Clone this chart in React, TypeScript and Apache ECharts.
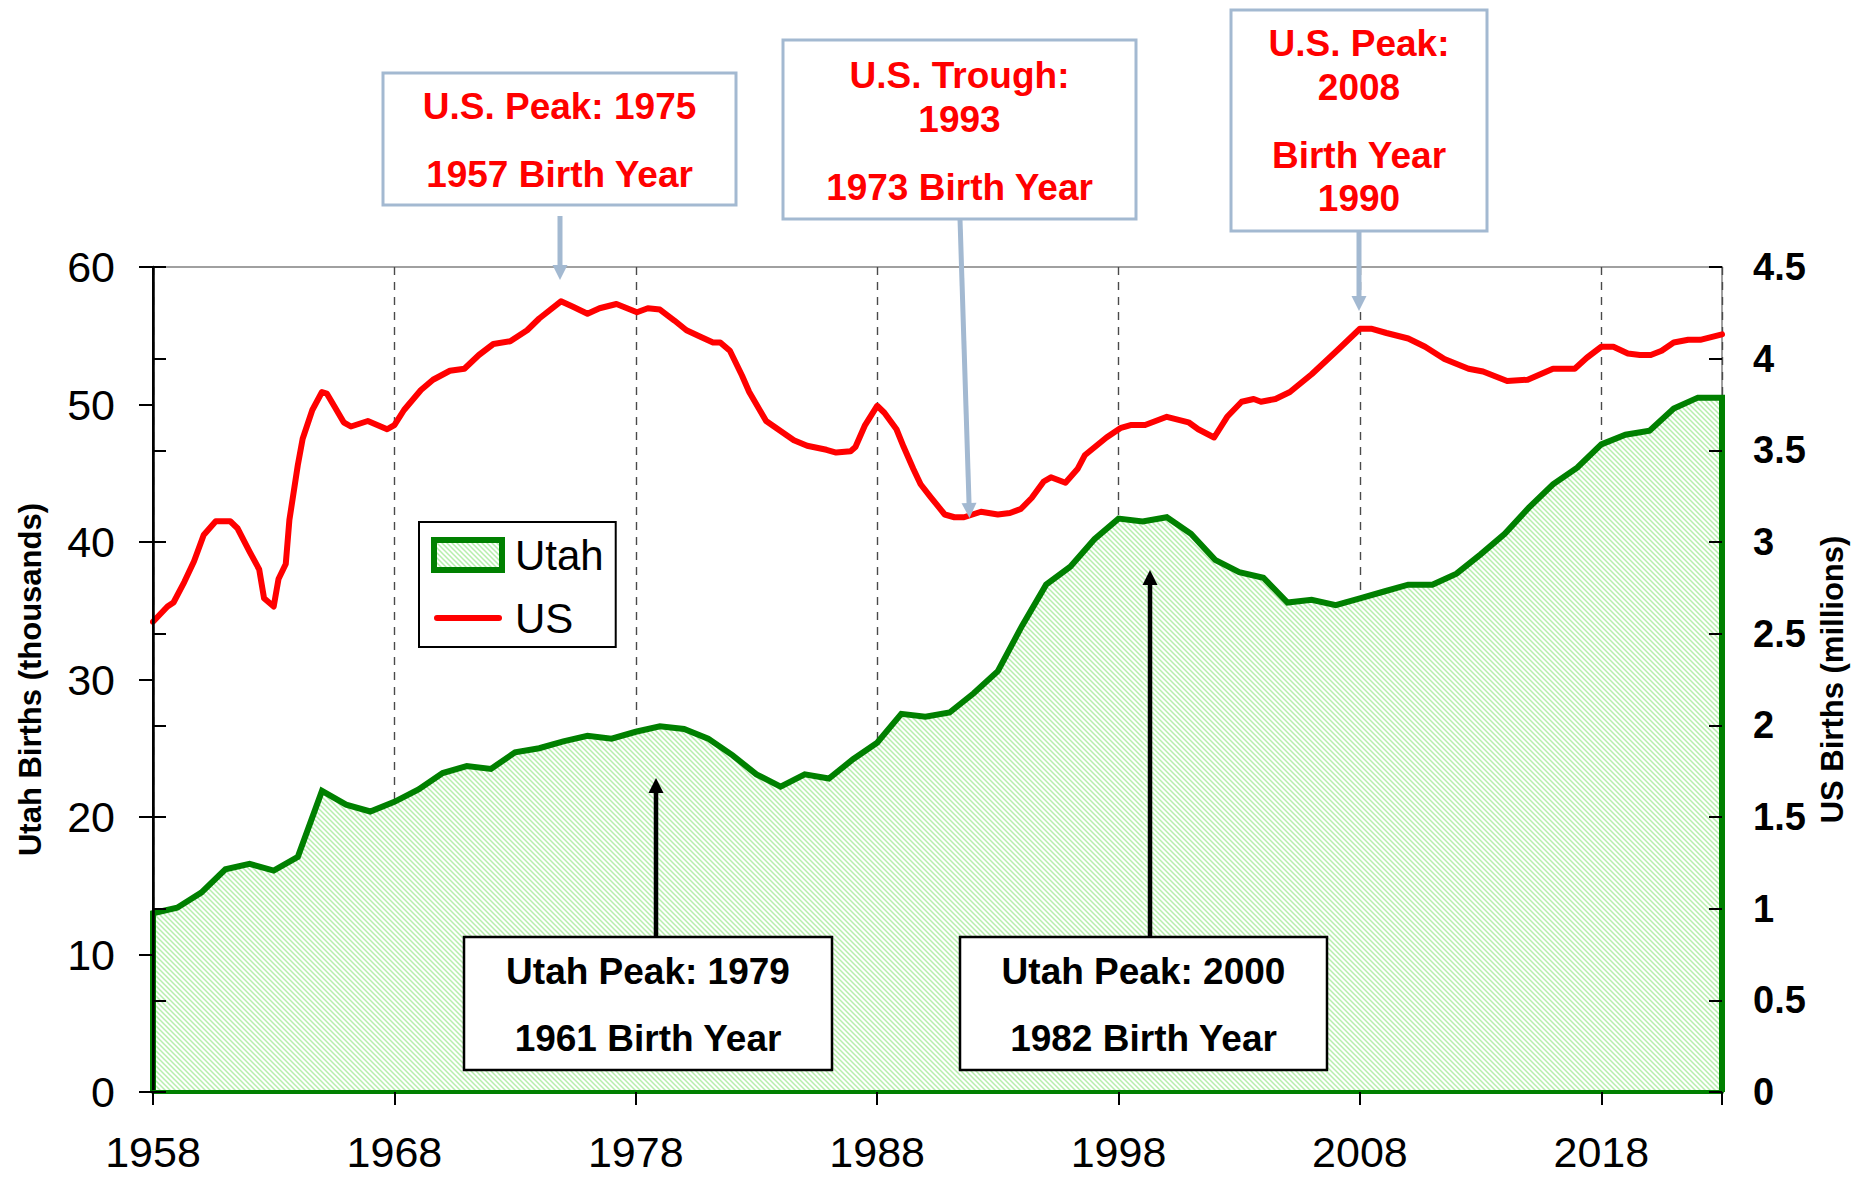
import React, { useEffect, useRef } from "react";
import * as echarts from "echarts";

// ---------- data ----------
const startYear = 1958;
const endYear = 2023;
const years = [
  1958, 1959, 1960, 1961, 1962, 1963, 1964, 1965, 1966, 1967, 1968, 1969, 1970, 1971, 1972, 1973, 1974,
  1975, 1976, 1977, 1978, 1979, 1980, 1981, 1982, 1983, 1984, 1985, 1986, 1987, 1988, 1989, 1990, 1991,
  1992, 1993, 1994, 1995, 1996, 1997, 1998, 1999, 2000, 2001, 2002, 2003, 2004, 2005, 2006, 2007, 2008,
  2009, 2010, 2011, 2012, 2013, 2014, 2015, 2016, 2017, 2018, 2019, 2020, 2021, 2022, 2023,
];
// Utah births (thousands)
const utahBirths = [
  13.0, 13.4, 14.5, 16.2, 16.6, 16.1, 17.1, 21.9, 20.9, 20.4, 21.1, 22.0, 23.2, 23.7, 23.5, 24.7, 25.0,
  25.5, 25.9, 25.7, 26.2, 26.6, 26.4, 25.7, 24.5, 23.1, 22.2, 23.1, 22.8, 24.2, 25.4, 27.5, 27.3, 27.6,
  29.0, 30.6, 33.9, 36.9, 38.2, 40.2, 41.7, 41.5, 41.8, 40.6, 38.7, 37.8, 37.4, 35.6, 35.8, 35.4, 35.9,
  36.4, 36.9, 36.9, 37.7, 39.1, 40.6, 42.5, 44.2, 45.4, 47.1, 47.8, 48.1, 49.7, 50.5, 50.5,
];
// US births (millions), plotted at the year the cohort turns 18
const usYears = [
  1958.0, 1958.6, 1958.85, 1959.3, 1959.7, 1960.1, 1960.6, 1961.2, 1961.5, 1962.0, 1962.4, 1962.6, 1963.0,
  1963.2, 1963.5, 1963.65, 1964.0, 1964.2, 1964.6, 1965.0, 1965.2, 1965.5, 1965.9, 1966.2, 1966.9, 1967.7,
  1968.0, 1968.4, 1969.1, 1969.6, 1970.3, 1970.9, 1971.5, 1972.1, 1972.8, 1973.5, 1974.0, 1974.9, 1975.4,
  1976.0, 1976.5, 1977.2, 1978.05, 1978.5, 1979.0, 1979.6, 1980.1, 1980.7, 1981.2, 1981.5, 1981.9, 1982.4,
  1982.7, 1983.4, 1984.55, 1985.1, 1985.9, 1986.3, 1986.9, 1987.1, 1987.5, 1988.0, 1988.3, 1988.8, 1989.1,
  1989.5, 1989.8, 1990.2, 1990.8, 1991.2, 1991.6, 1992.3, 1993.0, 1993.5, 1993.95, 1994.4, 1994.9, 1995.2,
  1995.8, 1996.3, 1996.6, 1997.5, 1998.1, 1998.5, 1999.1, 2000.0, 2000.9, 2001.3, 2001.96, 2002.5, 2003.1,
  2003.6, 2003.9, 2004.5, 2005.1, 2006.0, 2006.8, 2007.1, 2008.0, 2008.5, 2009.1, 2010.0, 2010.7, 2011.5,
  2012.5, 2013.1, 2014.1, 2014.95, 2016.0, 2016.9, 2017.4, 2018.0, 2018.5, 2019.1, 2019.6, 2020.05, 2020.5,
  2021.0, 2021.6, 2022.1, 2023.0,
];
const usBirths = [
  2.565, 2.648, 2.67, 2.783, 2.895, 3.038, 3.113, 3.113, 3.075, 2.948, 2.85, 2.693, 2.648,
  2.798, 2.88, 3.12, 3.42, 3.563, 3.72, 3.818, 3.81, 3.743, 3.653, 3.63, 3.66, 3.615,
  3.638, 3.72, 3.829, 3.885, 3.934, 3.945, 4.02, 4.08, 4.095, 4.155, 4.219, 4.313, 4.283,
  4.245, 4.275, 4.298, 4.253, 4.275, 4.268, 4.208, 4.155, 4.118, 4.088, 4.088, 4.043, 3.908,
  3.818, 3.66, 3.555, 3.525, 3.503, 3.488, 3.495, 3.518, 3.638, 3.743, 3.705, 3.615, 3.518,
  3.398, 3.315, 3.248, 3.15, 3.135, 3.135, 3.165, 3.15, 3.158, 3.18, 3.24, 3.33, 3.353,
  3.323, 3.398, 3.473, 3.57, 3.623, 3.638, 3.638, 3.683, 3.653, 3.615, 3.57, 3.683, 3.765,
  3.78, 3.765, 3.78, 3.818, 3.915, 4.013, 4.05, 4.163, 4.163, 4.14, 4.11, 4.065, 3.998,
  3.945, 3.93, 3.878, 3.885, 3.945, 3.945, 4.005, 4.065, 4.065, 4.028, 4.02, 4.02, 4.043,
  4.088, 4.103, 4.103, 4.133,
];
const xTickStep = 10;
const leftAxis = { min: 0, max: 60, step: 10, title: "Utah Births (thousands)" };
const rightAxis = { min: 0, max: 4.5, step: 0.5, title: "US Births (millions)" };
const seriesNames = ["Utah", "US"];

const usCallouts = [
  { lines: ["U.S. Peak: 1975", "1957 Birth Year"] },
  { lines: ["U.S. Trough:", "1993", "1973 Birth Year"] },
  { lines: ["U.S. Peak:", "2008", "Birth Year", "1990"] },
];
const utahCallouts = [
  { lines: ["Utah Peak: 1979", "1961 Birth Year"] },
  { lines: ["Utah Peak: 2000", "1982 Birth Year"] },
];

// ---------- styling ----------
const FONT = '"Liberation Sans", Arial, Helvetica, sans-serif';
const GREEN = "#008000";
const RED = "#ff0000";
const STEEL = "#a3b9d1";

function makeHatch(): HTMLCanvasElement {
  const s = 5;
  const c = document.createElement("canvas");
  c.width = s;
  c.height = s;
  const ctx = c.getContext("2d")!;
  ctx.fillStyle = "#ffffff";
  ctx.fillRect(0, 0, s, s);
  ctx.strokeStyle = "#b6eeac";
  ctx.lineWidth = 1.5;
  ctx.beginPath();
  ctx.moveTo(-1, -1);
  ctx.lineTo(s + 1, s + 1);
  ctx.moveTo(-1, s - 1);
  ctx.lineTo(1, s + 1);
  ctx.moveTo(s - 1, -1);
  ctx.lineTo(s + 1, 1);
  ctx.stroke();
  return c;
}

function arrow(x1: number, y1: number, x2: number, y2: number, color: string, w: number, hw: number, hl: number) {
  const dx = x2 - x1;
  const dy = y2 - y1;
  const len = Math.sqrt(dx * dx + dy * dy);
  const ux = dx / len;
  const uy = dy / len;
  const px = -uy;
  const py = ux;
  const bx = x2 - ux * hl;
  const by = y2 - uy * hl;
  return [
    { type: "line", z: 50, shape: { x1, y1, x2: bx + ux * 2, y2: by + uy * 2 }, style: { stroke: color, lineWidth: w } },
    {
      type: "polygon",
      z: 50,
      shape: { points: [[x2, y2], [bx + px * hw / 2, by + py * hw / 2], [bx - px * hw / 2, by - py * hw / 2]] },
      style: { fill: color },
    },
  ];
}

function box(x: number, y: number, w: number, h: number, stroke: string, lw: number) {
  return { type: "rect", z: 50, shape: { x, y, width: w, height: h }, style: { fill: "#fff", stroke, lineWidth: lw } };
}

function label(text: string, x: number, y: number, fill: string) {
  return {
    type: "text",
    z: 51,
    x,
    y,
    style: { text, fill, fontFamily: FONT, fontSize: 37, fontWeight: "bold", align: "center", verticalAlign: "middle" },
  };
}

function buildOption() {
  const hatch = { image: makeHatch(), repeat: "repeat" };
  const utahData: number[][] = [[0, 0]];
  years.forEach((y, i) => utahData.push([y - startYear, utahBirths[i]]));
  utahData.push([endYear - startYear, 0]);
  const usData = usYears.map((y, i) => [y - startYear, usBirths[i]]);
  const span = endYear - startYear;

  const g: any[] = [];
  // US callouts (steel-blue boxes, red text)
  g.push(box(383, 73, 353, 132, STEEL, 3));
  usCallouts[0].lines.forEach((t, i) => g.push(label(t, 559.5, 106 + i * 68, RED)));
  g.push(...arrow(560, 216, 560, 280, STEEL, 5, 15, 15));

  g.push(box(783, 40, 353, 179, STEEL, 3));
  [75, 119, 187].forEach((yy, i) => g.push(label(usCallouts[1].lines[i], 959.5, yy, RED)));
  g.push(...arrow(960, 219, 969.5, 518, STEEL, 5, 15, 15));

  g.push(box(1231, 10, 256, 221, STEEL, 3));
  [43, 87, 155, 198].forEach((yy, i) => g.push(label(usCallouts[2].lines[i], 1359, yy, RED)));
  g.push(...arrow(1359, 231, 1359, 311, STEEL, 5, 15, 15));

  // Utah callouts (black boxes)
  g.push(box(464, 937, 368, 133, "#000", 2.5));
  [971, 1038].forEach((yy, i) => g.push(label(utahCallouts[0].lines[i], 648, yy, "#000")));
  g.push(...arrow(656, 937, 656, 778, "#000", 4.5, 15, 15));

  g.push(box(960, 937, 367, 133, "#000", 2.5));
  [971, 1038].forEach((yy, i) => g.push(label(utahCallouts[1].lines[i], 1143.5, yy, "#000")));
  g.push(...arrow(1150, 937, 1150, 570, "#000", 4.5, 15, 15));

  return {
    animation: false,
    backgroundColor: "#fff",
    textStyle: { fontFamily: FONT },
    grid: {
      left: 153,
      right: 141,
      top: 267,
      bottom: 85,
      show: true,
      borderColor: "#a0a0a0",
      borderWidth: 2,
      backgroundColor: "transparent",
    },
    legend: {
      left: 419,
      top: 522,
      orient: "vertical",
      selectedMode: false,
      padding: [12, 12, 8, 12],
      itemGap: 21,
      itemWidth: 68,
      itemHeight: 30,
      borderColor: "#000",
      borderWidth: 2,
      backgroundColor: "#fff",
      textStyle: { fontSize: 42, color: "#000", fontFamily: FONT, padding: [0, 0, 0, 8] },
      data: [
        { name: seriesNames[0], icon: "rect", itemStyle: { color: hatch, borderColor: GREEN, borderWidth: 6 } },
        {
          name: seriesNames[1],
          icon: "path://M3,0 H65 A3,3 0 0 1 65,6 H3 A3,3 0 0 1 3,0 Z",
          itemStyle: { color: RED, borderWidth: 0 },
        },
      ],
    },
    xAxis: [
      {
        type: "value",
        min: 0,
        max: span,
        interval: xTickStep,
        position: "bottom",
        axisLine: { show: false },
        axisTick: { show: false },
        axisLabel: { show: false },
        splitLine: { show: true, lineStyle: { color: "#4a4a4a", width: 1.4, type: [8, 7] } },
      },
      {
        type: "value",
        min: 0,
        max: span,
        interval: xTickStep,
        position: "bottom",
        z: 5,
        axisLine: { show: true, onZero: false, lineStyle: { color: GREEN, width: 4 } },
        axisTick: { show: true, inside: false, length: 13, lineStyle: { color: "#000", width: 2 } },
        axisLabel: {
          show: true,
          margin: 40,
          fontSize: 43,
          lineHeight: 40,
          color: "#000",
          fontFamily: FONT,
          formatter: (v: number) => (v <= span - (span % xTickStep) ? String(v + startYear) : ""),
        },
        splitLine: { show: false },
      },
    ],
    yAxis: [
      {
        type: "value",
        position: "left",
        min: leftAxis.min,
        max: leftAxis.max,
        interval: leftAxis.step,
        z: 5,
        name: leftAxis.title,
        nameLocation: "middle",
        nameRotate: 90,
        nameGap: 107,
        nameTextStyle: { fontSize: 31, fontWeight: "bold", color: "#000", fontFamily: FONT },
        axisLine: { show: true, lineStyle: { color: "#000", width: 2.5 } },
        axisTick: { show: true, inside: false, length: 14, lineStyle: { color: "#000", width: 2 } },
        axisLabel: { margin: 38, fontSize: 43, color: "#000", fontFamily: FONT },
        splitLine: { show: false },
      },
      {
        type: "value",
        position: "right",
        min: rightAxis.min,
        max: rightAxis.max,
        interval: rightAxis.step,
        z: 5,
        name: rightAxis.title,
        nameLocation: "middle",
        nameRotate: 90,
        nameGap: 88,
        nameTextStyle: { fontSize: 31, fontWeight: "bold", color: "#000", fontFamily: FONT },
        axisLine: { show: true, lineStyle: { color: "#000", width: 2 } },
        axisTick: { show: true, inside: false, length: 13, lineStyle: { color: "#000", width: 2 } },
        axisLabel: { margin: 31, fontSize: 38, fontWeight: "bold", color: "#000", fontFamily: FONT },
        splitLine: { show: false },
      },
      {
        type: "value",
        position: "right",
        min: rightAxis.min,
        max: rightAxis.max,
        interval: rightAxis.step,
        z: 5,
        axisLine: { show: false },
        axisTick: { show: true, inside: true, length: 13, lineStyle: { color: "#000", width: 2 } },
        axisLabel: { show: false },
        splitLine: { show: false },
      },
    ],
    series: [
      {
        name: seriesNames[0],
        type: "line",
        xAxisIndex: 0,
        yAxisIndex: 0,
        data: utahData,
        symbol: "none",
        z: 2,
        lineStyle: { color: GREEN, width: 6, join: "miter" },
        itemStyle: { color: GREEN },
        areaStyle: { color: hatch, opacity: 1 },
      },
      {
        name: seriesNames[1],
        type: "line",
        xAxisIndex: 0,
        yAxisIndex: 1,
        data: usData,
        symbol: "none",
        z: 3,
        lineStyle: { color: RED, width: 6, cap: "round", join: "round" },
        itemStyle: { color: RED },
      },
    ],
    graphic: g,
  };
}

export default function App() {
  const ref = useRef<HTMLDivElement>(null);
  useEffect(() => {
    const chart = echarts.init(ref.current!, null, { renderer: "svg" });
    chart.setOption(buildOption() as any);
    return () => chart.dispose();
  }, []);
  return (
    <div
      ref={ref}
      style={{ position: "fixed", left: 0, top: 0, width: 1863, height: 1177, background: "#fff" }}
    />
  );
}
